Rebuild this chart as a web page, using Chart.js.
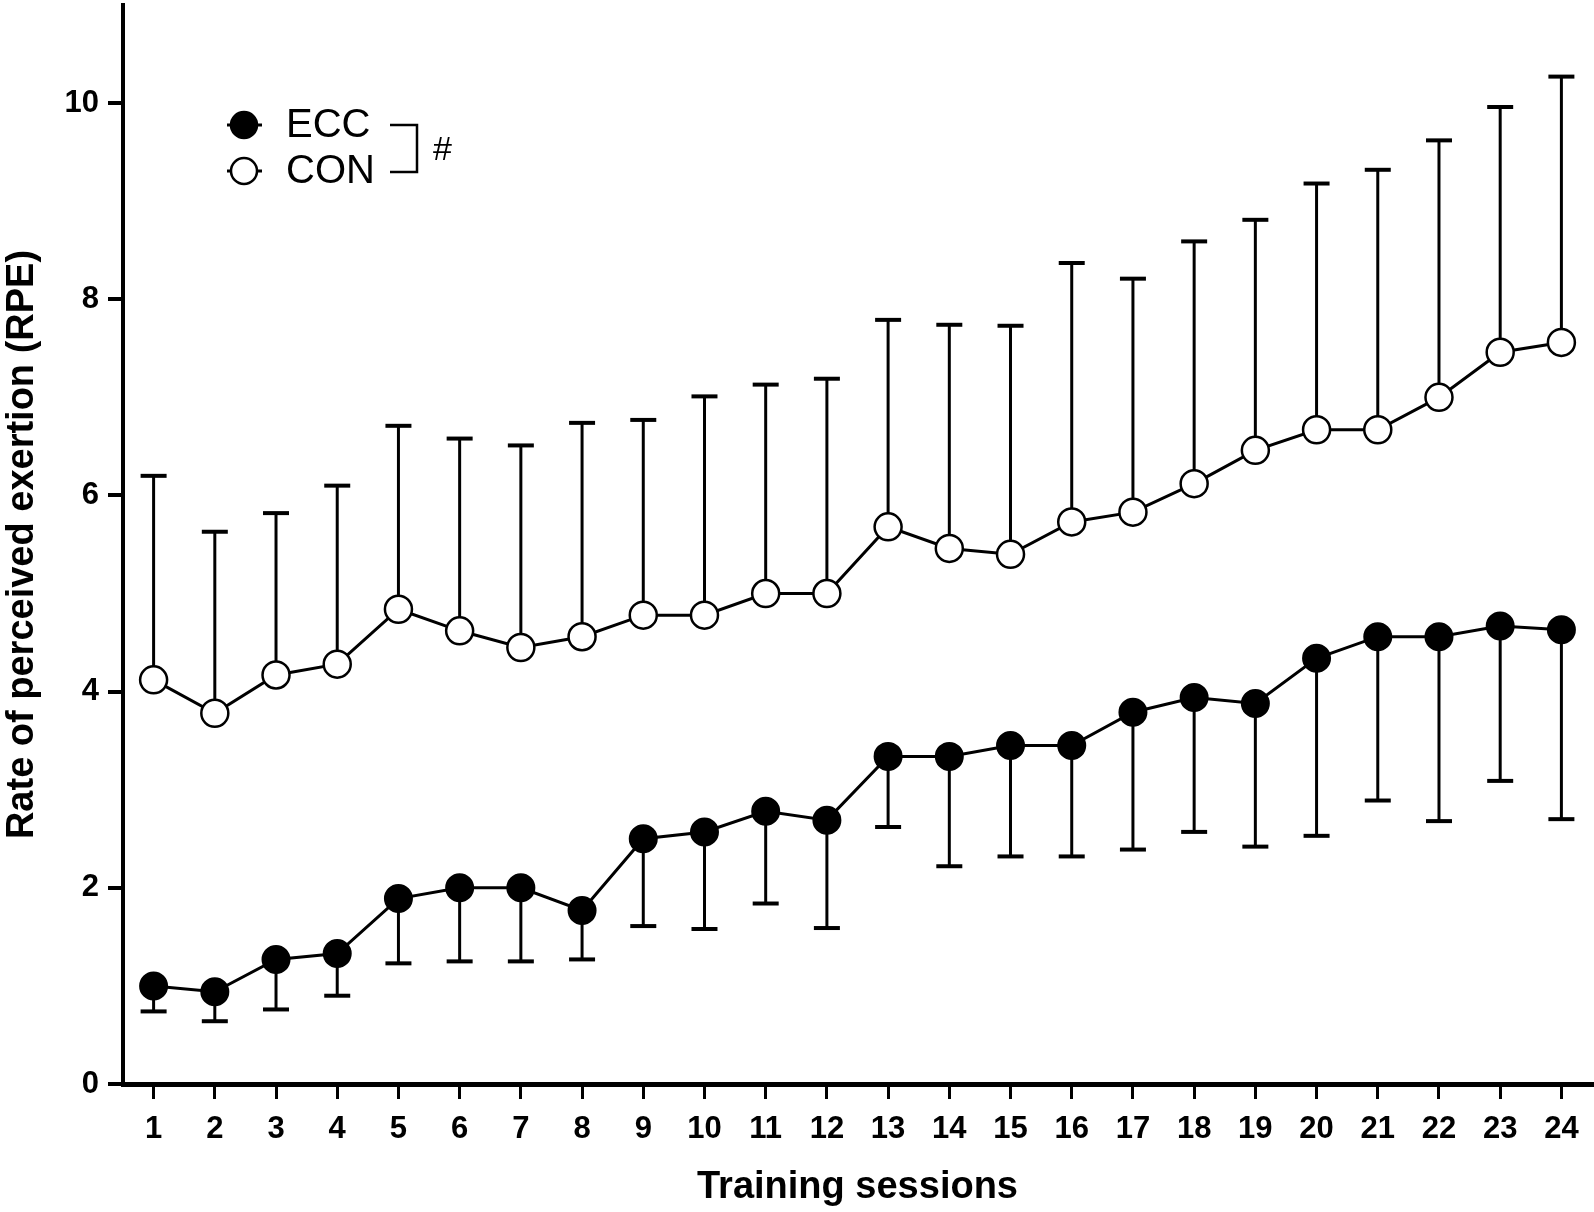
<!DOCTYPE html>
<html>
<head>
<meta charset="utf-8">
<script src="https://cdn.jsdelivr.net/npm/chart.js@4.4.1/dist/chart.umd.min.js"></script>
<style>
html, body { margin: 0; padding: 0; background: #fff; }
#wrap { width: 1594px; height: 1212px; }
</style>
</head>
<body>
<div id="wrap"><canvas id="charts" width="1594" height="1212"></canvas></div>
<script>
var sessions = ['1','2','3','4','5','6','7','8','9','10','11','12','13','14','15','16','17','18','19','20','21','22','23','24'];

// ECC (filled) mean and lower end of error bar
var eccMean = [1.0, 0.94, 1.27, 1.33, 1.89, 2.0, 2.0, 1.77, 2.5, 2.57, 2.78, 2.69, 3.34, 3.34, 3.45, 3.45, 3.79, 3.94, 3.88, 4.34, 4.56, 4.56, 4.67, 4.63];
var eccLow = [0.74, 0.64, 0.76, 0.9, 1.23, 1.25, 1.25, 1.27, 1.61, 1.58, 1.84, 1.59, 2.62, 2.22, 2.32, 2.32, 2.39, 2.57, 2.42, 2.53, 2.89, 2.68, 3.09, 2.7];

// CON (open) mean and upper end of error bar
var conMean = [4.12, 3.78, 4.17, 4.28, 4.84, 4.62, 4.45, 4.56, 4.78, 4.78, 5.0, 5.0, 5.68, 5.46, 5.4, 5.73, 5.83, 6.12, 6.46, 6.67, 6.67, 7.0, 7.46, 7.56];
var conHigh = [6.2, 5.63, 5.82, 6.1, 6.71, 6.58, 6.51, 6.74, 6.77, 7.01, 7.13, 7.19, 7.79, 7.74, 7.73, 8.37, 8.21, 8.59, 8.81, 9.18, 9.32, 9.62, 9.96, 10.27];

var yMax = 11;
var yStep = 2;

var FONT = "'Liberation Sans', Arial, Helvetica, sans-serif";

var errorBars = {
    id: 'errorBars',
    beforeDatasetsDraw: function(chart){
        var ctx = chart.ctx;
        var y = chart.scales.y;
        ctx.save();
        ctx.strokeStyle = '#000';
        chart.data.datasets.forEach(function(ds, i){
            var meta = chart.getDatasetMeta(i);
            meta.data.forEach(function(pt, j){
                var y0 = y.getPixelForValue(ds.data[j]);
                var y1 = y.getPixelForValue(ds.errEnd[j]);
                ctx.lineWidth = 3;
                ctx.beginPath();
                ctx.moveTo(pt.x, y0);
                ctx.lineTo(pt.x, y1);
                ctx.stroke();
                ctx.lineWidth = 4;
                ctx.beginPath();
                ctx.moveTo(pt.x - 13, y1);
                ctx.lineTo(pt.x + 13, y1);
                ctx.stroke();
            });
        });
        ctx.restore();
    }
};

var legendBox = {
    id: 'legendBox',
    afterDraw: function(chart){
        var ctx = chart.ctx;
        var rows = [{y: 125, fill: '#000'}, {y: 171, fill: '#fff'}];
        ctx.save();
        ctx.strokeStyle = '#000';
        ctx.fillStyle = '#000';
        rows.forEach(function(r, i){
            ctx.lineWidth = 3;
            ctx.beginPath();
            ctx.moveTo(227, r.y);
            ctx.lineTo(262, r.y);
            ctx.stroke();
            ctx.beginPath();
            ctx.arc(244, r.y, 13, 0, Math.PI * 2);
            ctx.fillStyle = r.fill;
            ctx.fill();
            ctx.lineWidth = 2.5;
            ctx.stroke();
            ctx.fillStyle = '#000';
            ctx.font = '40px ' + FONT;
            ctx.textBaseline = 'middle';
            ctx.fillText(chart.data.datasets[i].label, 286, r.y + 1);
        });
        // bracket + significance mark
        ctx.lineWidth = 2.5;
        ctx.beginPath();
        ctx.moveTo(390, 125);
        ctx.lineTo(417, 125);
        ctx.lineTo(417, 172);
        ctx.lineTo(390, 172);
        ctx.stroke();
        ctx.font = '34px ' + FONT;
        ctx.fillText('#', 433, 151);
        ctx.restore();
    }
};

var ctx = document.getElementById('charts').getContext('2d');
var chart = new Chart(ctx, {
    type: 'line',
    data: {
        labels: sessions,
        datasets: [
            {
                label: 'ECC',
                data: eccMean,
                errEnd: eccLow,
                borderColor: '#000',
                borderWidth: 3,
                pointRadius: 13.5,
                pointHoverRadius: 13.5,
                pointBackgroundColor: '#000',
                pointBorderColor: '#000',
                pointBorderWidth: 2,
                tension: 0,
                clip: false
            },
            {
                label: 'CON',
                data: conMean,
                errEnd: conHigh,
                borderColor: '#000',
                borderWidth: 3,
                pointRadius: 13.5,
                pointHoverRadius: 13.5,
                pointBackgroundColor: '#fff',
                pointBorderColor: '#000',
                pointBorderWidth: 2.5,
                tension: 0,
                clip: false
            }
        ]
    },
    options: {
        responsive: false,
        animation: false,
        devicePixelRatio: 1,
        layout: { autoPadding: false, padding: { top: 5, right: 2, left: 0, bottom: 0 } },
        plugins: {
            legend: { display: false },
            tooltip: { enabled: false }
        },
        scales: {
            x: {
                type: 'category',
                offset: true,
                grid: { display: true, drawOnChartArea: false, drawTicks: true, tickLength: 15, lineWidth: 3, color: '#000' },
                border: { display: true, color: '#000', width: 5 },
                ticks: { color: '#000', font: { family: FONT, size: 31, weight: 'bold' }, padding: 12, maxRotation: 0, autoSkip: false },
                title: { display: true, text: 'Training sessions', color: '#000', font: { family: FONT, size: 38, weight: 'bold' }, padding: { top: 0, bottom: 2 } },
                afterFit: function(s){ s.height = 128; s.paddingLeft = 0; s.paddingRight = 0; }
            },
            y: {
                min: 0,
                max: yMax,
                grid: { display: true, drawOnChartArea: false, drawTicks: true, tickLength: 15, lineWidth: 4, color: '#000' },
                border: { display: true, color: '#000', width: 4 },
                ticks: { stepSize: yStep, includeBounds: false, color: '#000', font: { family: FONT, size: 31, weight: 'bold' }, padding: 9 },
                title: { display: true, text: 'Rate of perceived exertion (RPE)', color: '#000', font: { family: FONT, size: 38, weight: 'bold' }, padding: { top: 0, bottom: 0 } },
                afterFit: function(s){ s.width = 123; s.paddingTop = 0; s.paddingBottom = 0; }
            }
        }
    },
    plugins: [errorBars, legendBox]
});
</script>
</body>
</html>
